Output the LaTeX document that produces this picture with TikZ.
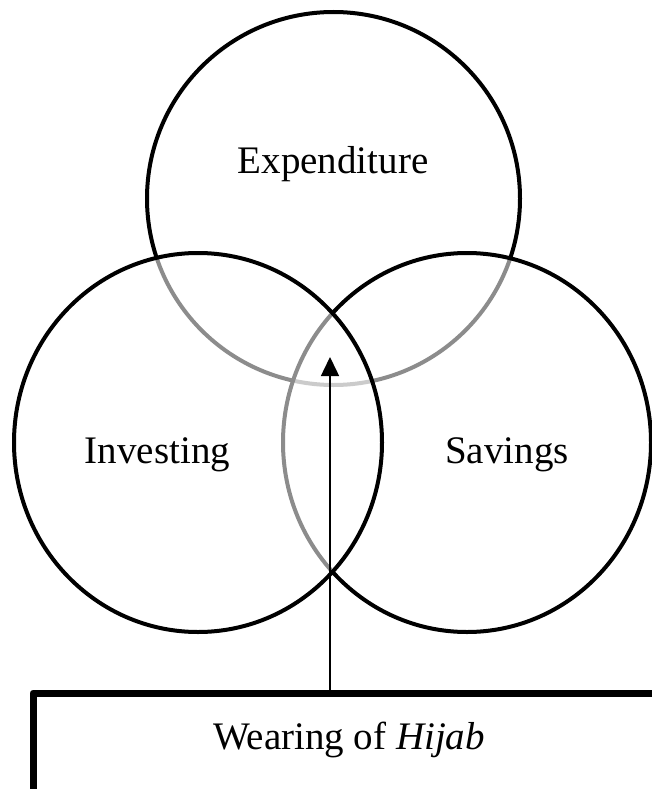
\documentclass[tikz,border=0pt]{standalone}
\usepackage{fontspec}
\setmainfont{Liberation Serif}
\usetikzlibrary{arrows.meta}
\begin{document}
\begin{tikzpicture}[x=1pt, y=-1pt, line join=round,
    ring/.style={draw=black, line width=4pt, fill=white, fill opacity=.55},
    lbl/.style={font=\fontsize{39}{46}\selectfont, inner sep=0pt, anchor=base},
    frame/.style={draw=black, line width=7pt, inner sep=0pt, text height=20pt, text depth=10pt,
        font=\fontsize{39}{46}\selectfont},
    push/.style={line width=1.5pt, -{Triangle[length=19pt, width=18pt]}}]
    \clip (0,0) rectangle (652,789);
    \coordinate (E) at (333.5,198.5);
    \coordinate (S) at (467,442.5);
    \coordinate (I) at (198,442.5);
    \coordinate (tip) at (330,357);

    % back to front, so the hidden arcs show grey
    \draw[ring] (E) circle [radius=186.5];
    \draw[ring] (S) ellipse [x radius=184, y radius=189.5];
    \draw[ring] (I) ellipse [x radius=184, y radius=189.5];

    \node[lbl] (exp) at (333,173) {Expenditure};
    \node[lbl] (inv) at (157.5,463) {Investing};
    \node[lbl] (sav) at (507,463) {Savings};

    \node[frame, minimum width=632pt, minimum height=102pt] (hijab) at (349,744)
        {Wearing of \emph{Hijab}};
    \draw[push] (hijab.north -| tip) -- (tip);
\end{tikzpicture}
\end{document}
